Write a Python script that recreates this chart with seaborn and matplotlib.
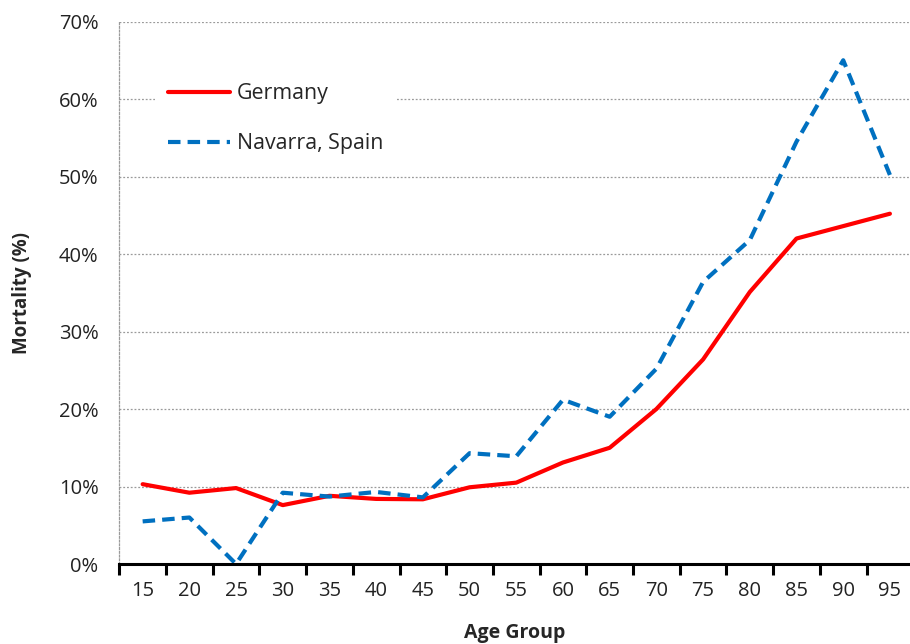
import numpy as np
import pandas as pd
import seaborn as sns
import matplotlib.pyplot as plt
from matplotlib.ticker import FixedLocator, PercentFormatter

age_groups = ["15", "20", "25", "30", "35", "40", "45", "50", "55",
              "60", "65", "70", "75", "80", "85", "90", "95"]
germany = [10.3, 9.2, 9.8, 7.6, 8.8, 8.4, 8.35, 9.9, 10.5,
           13.1, 15.0, 20.0, 26.4, 35.1, 42.0, 43.6, 45.2]
navarra = [5.5, 6.0, 0.0, 9.2, 8.7, 9.3, 8.6, 14.3, 13.9,
           21.2, 19.0, 25.2, 36.4, 41.8, 54.5, 65.0, 50.2]
series_names = ["Germany", "Navarra, Spain"]

sns.set_style("white")
plt.rcParams["font.family"] = ["Open Sans", "DejaVu Sans"]

pos = np.arange(len(age_groups))
df = pd.DataFrame({
    "pos": np.concatenate([pos, pos]),
    "mortality": np.array(germany + navarra) / 100,
    "series": [series_names[0]] * len(pos) + [series_names[1]] * len(pos),
})

f = plt.figure(figsize=(9.10, 6.44), dpi=100)
ax = f.add_axes([0.1311, 0.1242, 0.8689, 0.8424])

sns.lineplot(data=df, x="pos", y="mortality", hue="series", style="series",
             palette={series_names[0]: "#FF0000", series_names[1]: "#0070C0"},
             dashes={series_names[0]: "", series_names[1]: (3, 1.7)},
             linewidth=3, ax=ax, clip_on=False, zorder=3)

ax.set_xlim(-0.5, 16.43)
ax.set_ylim(0, 0.70)
ax.yaxis.set_major_locator(FixedLocator(np.arange(0, 0.71, 0.1)))
ax.yaxis.set_major_formatter(PercentFormatter(1.0, decimals=0))
ax.set_xticks(pos)
ax.set_xticklabels(age_groups)
ax.xaxis.set_minor_locator(FixedLocator(pos - 0.5))

ax.tick_params(axis="x", which="major", length=0, pad=12, labelsize=14.5, colors="#222222")
ax.tick_params(axis="x", which="minor", length=8, width=2.2, direction="out", color="black", bottom=True)
ax.tick_params(axis="y", length=0, pad=15, labelsize=14.5, colors="#222222")

ax.grid(axis="y", color="#9a9a9a", linestyle=(0, (1.5, 1.5)), linewidth=0.9)
for side in ["top", "right"]:
    ax.spines[side].set_visible(False)
ax.spines["left"].set_color("#9a9a9a")
ax.spines["left"].set_linestyle((0, (1.5, 1.5)))
ax.spines["left"].set_linewidth(0.9)
ax.spines["bottom"].set_color("black")
ax.spines["bottom"].set_linewidth(2.2)
ax.spines["bottom"].set_zorder(4)

ax.set_xlabel("Age Group", fontsize=14, fontweight="bold", labelpad=16)
ax.set_ylabel("Mortality (%)", fontsize=13.5, fontweight="bold", labelpad=19)

leg = ax.legend(loc="upper left", bbox_to_anchor=(0.045, 0.91), fontsize=15.4,
                handlelength=2.9, labelspacing=1.35, frameon=True,
                facecolor="white", edgecolor="none", framealpha=1,
                borderpad=0.6, handletextpad=0.35, borderaxespad=0)
leg.set_zorder(5)
for line in leg.get_lines():
    line.set_linewidth(3)

plt.savefig("out.png", dpi=100)
